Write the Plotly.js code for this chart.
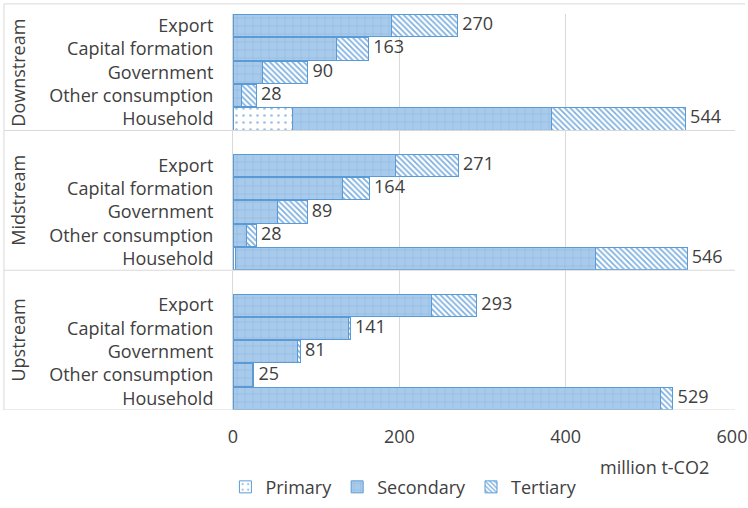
<!DOCTYPE html>
<html>
<head>
<meta charset="utf-8">
<script src="https://cdn.plot.ly/plotly-3.0.1.min.js"></script>
<style>html,body{margin:0;padding:0;background:#fff;}#chart{width:748px;height:508px;}</style>
</head>
<body>
<div id="chart"></div>
<script>
const groups = ['Downstream', 'Midstream', 'Upstream'];
const categories = ['Export', 'Capital formation', 'Government', 'Other consumption', 'Household'];
const seriesNames = ['Primary', 'Secondary', 'Tertiary'];

const primaryDown   = [0, 0, 0, 0, 71];
const secondaryDown = [190, 125, 35, 10, 312];
const tertiaryDown  = [80, 38, 55, 18, 161];

const primaryMid   = [0, 0, 0, 0, 3];
const secondaryMid = [195, 132, 54, 16, 433];
const tertiaryMid  = [76, 32, 35, 12, 110];

const primaryUp   = [0, 0, 0, 0, 0];
const secondaryUp = [239, 139, 78, 23, 514];
const tertiaryUp  = [54, 2, 3, 2, 15];

const xTicks = [0, 200, 400, 600];
const xAxisLabel = 'million t-CO2';

const primaryAll = [primaryDown, primaryMid, primaryUp].flat();
const secondaryAll = [secondaryDown, secondaryMid, secondaryUp].flat();
const tertiaryAll = [tertiaryDown, tertiaryMid, tertiaryUp].flat();

const slotsPerGroup = categories.length + 1;
const yPos = [];
const yText = [];
groups.forEach((g, gi) => categories.forEach((c, ci) => {
  yPos.push(gi * slotsPerGroup + ci);
  yText.push(c);
}));
const totals = primaryAll.map((v, i) => v + secondaryAll[i] + tertiaryAll[i]);

const FONT = '"Open Sans", Lato, sans-serif';
const TXT = '#404040';
const EDGE = '#5b9bd5';
const FS = 18;

const traces = [
  {
    type: 'bar', orientation: 'h', name: seriesNames[0], x: primaryAll, y: yPos,
    marker: { color: '#ffffff', line: { color: EDGE, width: 1 },
      pattern: { shape: '.', fgcolor: '#9dc3e6', bgcolor: '#ffffff', size: 7, solidity: 0.12, fillmode: 'replace' } },
    hoverinfo: 'skip'
  },
  {
    type: 'bar', orientation: 'h', name: seriesNames[1], x: secondaryAll, y: yPos,
    marker: { color: '#a6c8ea', line: { color: EDGE, width: 1 },
      pattern: { shape: '+', fgcolor: '#8db8e2', bgcolor: '#a9cbeb', size: 8, solidity: 0.15, fillmode: 'replace' } },
    hoverinfo: 'skip'
  },
  {
    type: 'bar', orientation: 'h', name: seriesNames[2], x: tertiaryAll, y: yPos,
    marker: { color: '#ffffff', line: { color: EDGE, width: 1 },
      pattern: { shape: '\\', fgcolor: '#7aaee0', bgcolor: '#ffffff', size: 4, solidity: 0.4, fillmode: 'replace' } },
    hoverinfo: 'skip'
  },
  {
    type: 'scatter', mode: 'text', x: totals, y: yPos, text: totals.map(v => '\u00a0' + v),
    textposition: 'middle right', textfont: { family: FONT, size: FS, color: TXT },
    showlegend: false, cliponaxis: false, hoverinfo: 'skip'
  }
];

const nSlots = groups.length * slotsPerGroup;
const yTop = -0.5;
const yBottom = nSlots - 1.5;

const shapes = [];
const lineColor = '#d9d9d9';
shapes.push({ type: 'line', xref: 'paper', yref: 'paper', x0: -0.459, x1: 1.026, y0: 1.0255, y1: 1.0255, line: { color: lineColor, width: 1 } });
shapes.push({ type: 'line', xref: 'paper', yref: 'paper', x0: -0.459, x1: -0.459, y0: 1.0255, y1: 0, line: { color: lineColor, width: 1 } });
groups.forEach((g, gi) => {
  const ySep = gi * slotsPerGroup + categories.length - 0.5;
  shapes.push({ type: 'line', xref: 'paper', yref: 'y', x0: -0.459, x1: 1.006, y0: ySep, y1: ySep, line: { color: lineColor, width: 1 } });
});

const annotations = groups.map((g, gi) => {
  const top = gi === 0 ? yTop : gi * slotsPerGroup - 1.5;
  const bottom = gi * slotsPerGroup + categories.length - 0.5;
  return {
    text: g, xref: 'paper', yref: 'y', x: -0.43, y: (top + bottom) / 2,
    textangle: -90, showarrow: false, xanchor: 'center', yanchor: 'middle',
    font: { family: FONT, size: FS, color: TXT }
  };
});
annotations.push({
  text: xAxisLabel, xref: 'paper', yref: 'paper', x: 0.845, y: -0.145,
  showarrow: false, xanchor: 'center', yanchor: 'middle',
  font: { family: FONT, size: FS, color: TXT }
});

const layout = {
  width: 748, height: 508,
  margin: { l: 233, r: 16, t: 14, b: 98 },
  paper_bgcolor: '#ffffff', plot_bgcolor: '#ffffff',
  barmode: 'stack', bargap: 0.04,
  font: { family: FONT, size: FS, color: TXT },
  xaxis: {
    range: [0, 600], tickvals: xTicks, ticktext: xTicks.map(String),
    showgrid: true, gridcolor: '#d9d9d9', gridwidth: 1, zeroline: false, showline: false,
    ticks: '', ticklabelstandoff: 14, tickfont: { family: FONT, size: FS, color: TXT }, fixedrange: true,
    automargin: false
  },
  yaxis: {
    range: [yBottom, yTop], tickvals: yPos, ticktext: yText,
    showgrid: false, zeroline: false, showline: true, linecolor: '#d9d9d9', linewidth: 1,
    ticks: '', ticklabelstandoff: 15, tickfont: { family: FONT, size: FS, color: TXT }, fixedrange: true,
    automargin: false
  },
  legend: {
    orientation: 'h', x: 0.54, xref: 'container', xanchor: 'center',
    y: 0.041, yref: 'container', yanchor: 'middle',
    font: { family: FONT, size: FS, color: TXT }, itemwidth: 30, traceorder: 'normal'
  },
  shapes: shapes,
  annotations: annotations,
  showlegend: true
};

Plotly.newPlot('chart', traces, layout, { displayModeBar: false, staticPlot: true });
</script>
</body>
</html>
